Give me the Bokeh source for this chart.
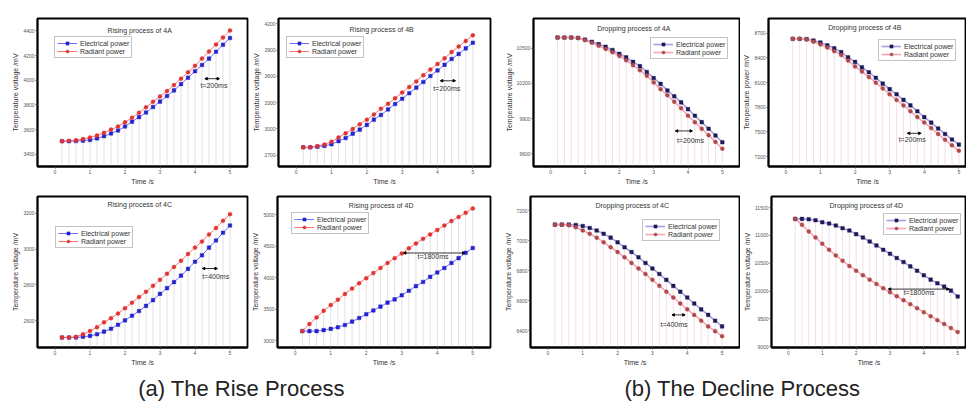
import numpy as np
from bokeh.plotting import figure
from bokeh.layouts import column, row
from bokeh.models import Range1d, FixedTicker, Legend, LegendItem, Label, Arrow, NormalHead
from bokeh.embed import file_html
from bokeh.resources import INLINE

# ---------------- data ----------------
time_s = [0.2, 0.4, 0.6, 0.8, 1.0, 1.2, 1.4, 1.6, 1.8, 2.0, 2.2, 2.4, 2.6,
          2.8, 3.0, 3.2, 3.4, 3.6, 3.8, 4.0, 4.2, 4.4, 4.6, 4.8, 5.0]
x_ticks = [0, 1, 2, 3, 4, 5]

rise_4a_elec = [3505, 3505, 3507, 3510, 3515, 3528, 3546, 3568, 3592, 3624, 3663, 3700, 3738,
                3782, 3826, 3872, 3917, 3968, 4020, 4072, 4123, 4175, 4230, 4287, 4342]
rise_4a_rad = [3505, 3508, 3512, 3522, 3535, 3552, 3573, 3599, 3625, 3658, 3695, 3736, 3780,
               3824, 3868, 3912, 3961, 4012, 4064, 4116, 4175, 4232, 4289, 4346, 4403]
rise_4a_yticks = [3400, 3600, 3800, 4000, 4200, 4400]

rise_4b_elec = [2789, 2789, 2796, 2806, 2824, 2860, 2895, 2945, 2991, 3045, 3105, 3158, 3222,
                3283, 3343, 3407, 3471, 3535, 3603, 3667, 3731, 3798, 3855, 3919, 3983]
rise_4b_rad = [2789, 2789, 2803, 2821, 2853, 2902, 2949, 2998, 3052, 3105, 3165, 3229, 3286,
               3350, 3414, 3478, 3542, 3613, 3677, 3741, 3805, 3877, 3940, 4004, 4068]
rise_4b_yticks = [2700, 3000, 3300, 3600, 3900, 4200]

rise_4c_elec = [2506, 2506, 2506, 2510, 2515, 2524, 2539, 2555, 2577, 2602, 2628, 2654, 2683,
                2715, 2750, 2782, 2816, 2852, 2890, 2930, 2966, 3009, 3049, 3092, 3133]
rise_4c_rad = [2506, 2506, 2510, 2524, 2542, 2564, 2591, 2614, 2640, 2670, 2701, 2732, 2762,
               2795, 2829, 2863, 2901, 2935, 2973, 3009, 3043, 3083, 3119, 3159, 3196]
rise_4c_yticks = [2600, 2800, 3000, 3200]

rise_4d_elec = [3151, 3151, 3151, 3166, 3186, 3212, 3247, 3302, 3358, 3418, 3479, 3539, 3604,
                3655, 3720, 3791, 3866, 3932, 4013, 4083, 4154, 4234, 4310, 4395, 4471]
rise_4d_rad = [3151, 3262, 3368, 3473, 3564, 3650, 3740, 3826, 3912, 3992, 4073, 4154, 4234,
               4310, 4385, 4466, 4542, 4617, 4688, 4758, 4829, 4899, 4965, 5030, 5101]
rise_4d_yticks = [3000, 3500, 4000, 4500, 5000]

drop_4a_elec = [10592, 10592, 10592, 10589, 10575, 10556, 10536, 10514, 10486, 10453, 10423, 10384, 10348,
                10298, 10246, 10196, 10140, 10090, 10038, 9980, 9924, 9869, 9813, 9755, 9697]
drop_4a_rad = [10592, 10592, 10592, 10589, 10570, 10547, 10522, 10495, 10467, 10434, 10398, 10356, 10312,
               10265, 10209, 10151, 10099, 10043, 9988, 9924, 9869, 9813, 9758, 9700, 9642]
drop_4a_yticks = [9600, 9900, 10200, 10500]

drop_4b_elec = [8633, 8633, 8629, 8613, 8589, 8554, 8518, 8471, 8408, 8352, 8285, 8226, 8159,
                8088, 8021, 7958, 7890, 7823, 7752, 7681, 7614, 7543, 7476, 7409, 7346]
drop_4b_rad = [8633, 8633, 8625, 8597, 8565, 8526, 8483, 8435, 8368, 8297, 8234, 8167, 8100,
               8029, 7958, 7890, 7823, 7752, 7681, 7614, 7547, 7476, 7405, 7338, 7271]
drop_4b_yticks = [7200, 7500, 7800, 8100, 8400, 8700]

drop_4c_elec = [7108, 7108, 7108, 7106, 7099, 7086, 7069, 7047, 7021, 6990, 6957, 6925, 6890,
                6852, 6815, 6778, 6739, 6699, 6660, 6621, 6581, 6542, 6505, 6466, 6428]
drop_4c_rad = [7108, 7108, 7104, 7090, 7069, 7047, 7021, 6990, 6957, 6925, 6890, 6852, 6815,
               6778, 6739, 6699, 6660, 6621, 6581, 6542, 6505, 6466, 6428, 6396, 6363]
drop_4c_yticks = [6400, 6600, 6800, 7000, 7200]

drop_4d_elec = [11297, 11297, 11291, 11273, 11237, 11214, 11178, 11130, 11088, 11023, 10963, 10891, 10820,
                10742, 10671, 10593, 10521, 10444, 10366, 10283, 10205, 10140, 10080, 10008, 9901]
drop_4d_rad = [11297, 11190, 11070, 10963, 10850, 10742, 10641, 10545, 10450, 10366, 10283, 10205, 10128,
               10050, 9978, 9907, 9835, 9764, 9692, 9620, 9549, 9477, 9406, 9334, 9262]
drop_4d_yticks = [9000, 9500, 10000, 10500, 11000, 11500]

# delay annotations: (x_start, x_end, y, text_x, text_y, text)
note_rise_4a = (4.28, 4.70, 4012, 4.54, 3953, "t=200ms")
note_rise_4b = (4.08, 4.51, 3549, 4.26, 3464, "t=200ms")
note_rise_4c = (4.21, 4.64, 2892, 4.59, 2849, "t=400ms")
note_rise_4d = (3.05, 4.78, 4392, 3.88, 4330, "t=1800ms")
note_drop_4a = (3.63, 4.13, 9794, 4.07, 9711, "t=200ms")
note_drop_4b = (3.51, 3.91, 7484, 3.65, 7405, "t=200ms")
note_drop_4c = (3.56, 3.94, 6505, 3.62, 6439, "t=400ms")
note_drop_4d = (2.95, 4.75, 10035, 3.86, 9967, "t=1800ms")

FONT = "Liberation Sans"
LEG_H = 21

RISE_STYLE = dict(blue="#2323cc", red="#e03434", bline="#6f6fff", rline="#ff7070",
                  lw=1.0, vline="#d4d4d4")
DROP_STYLE = dict(blue="#1c1a55", red="#b04a4a", bline="#a99ee0", rline="#f2a6b6",
                  lw=1.6, vline="#ecd2da")


def make_panel(title, ylabel, elec, rad, ylim, yticks, xlim, style, box, leg_off,
               title_dy, note):
    w, h, bl, br, bt, bb = box
    fw, fh = w - bl - br, h - bt - bb
    p = figure(width=w, height=h, min_border_left=bl, min_border_right=br,
               min_border_top=bt, min_border_bottom=bb,
               x_range=Range1d(*xlim), y_range=Range1d(*ylim),
               output_backend="svg", toolbar_location=None, tools="")
    p.xgrid.visible = False
    p.ygrid.visible = False
    p.outline_line_color = "black"
    p.outline_line_width = 1.8
    p.background_fill_color = "white"
    p.border_fill_color = "white"
    p.xaxis.ticker = FixedTicker(ticks=x_ticks)
    p.yaxis.ticker = FixedTicker(ticks=yticks)
    p.xaxis.axis_label = "Time /s"
    p.yaxis.axis_label = ylabel
    for ax in (p.xaxis[0], p.yaxis[0]):
        ax.major_label_text_font_size = "5px"
        ax.major_label_text_font = FONT
        ax.major_label_text_color = "#555555"
        ax.axis_label_text_font_size = "7px"
        ax.axis_label_text_font = FONT
        ax.axis_label_text_font_style = "normal"
        ax.axis_label_text_color = "#333333"
        ax.major_tick_in = 0
        ax.major_tick_out = 2
        ax.minor_tick_in = 0
        ax.minor_tick_out = 0
        ax.major_label_standoff = 1
        ax.axis_label_standoff = 1
        ax.axis_line_color = "black"
        ax.axis_line_width = 1.8
        ax.major_tick_line_color = "#444444"

    n = len(time_s)
    upper = np.maximum(np.array(elec), np.array(rad))
    p.segment(x0=time_s, y0=[ylim[0]] * n, x1=time_s, y1=upper,
              line_color=style["vline"], line_width=0.7)
    lb = p.line(time_s, elec, line_color=style["bline"], line_width=style["lw"])
    lr = p.line(time_s, rad, line_color=style["rline"], line_width=style["lw"])
    sb = p.scatter(time_s, elec, marker="square", size=3.6, fill_color=style["blue"],
                   line_color=style["blue"], line_width=0.4)
    sr = p.scatter(time_s, rad, marker="circle", size=4.0, fill_color=style["red"],
                   line_color=style["red"], line_width=0.4)

    leg = Legend(items=[LegendItem(label="Electrical power", renderers=[lb, sb]),
                        LegendItem(label="Radiant power", renderers=[lr, sr])],
                 location=(leg_off[0], fh - leg_off[1] - LEG_H))
    leg.label_text_font_size = "7px"
    leg.label_text_font = FONT
    leg.label_text_color = "#333333"
    leg.label_height = 8
    leg.glyph_height = 8
    leg.glyph_width = 20
    leg.label_standoff = 3
    leg.padding = 2
    leg.spacing = 0
    leg.margin = 0
    leg.border_line_color = "#888888"
    leg.border_line_width = 0.7
    leg.background_fill_alpha = 1.0
    p.add_layout(leg)

    per_px = (ylim[1] - ylim[0]) / fh
    p.add_layout(Label(x=(xlim[0] + xlim[1]) / 2 - 0.08, y=ylim[1] - title_dy * per_px,
                       text=title, text_align="center", text_baseline="middle",
                       text_font_size="7px", text_font=FONT, text_color="#333333"))

    x0, x1, ya, tx, ty, txt = note
    p.add_layout(Arrow(x_start=x0, y_start=ya, x_end=x1, y_end=ya, line_width=0.8,
                       line_color="black",
                       start=NormalHead(size=2.5, fill_color="black", line_color="black"),
                       end=NormalHead(size=2.5, fill_color="black", line_color="black")))
    p.add_layout(Label(x=tx, y=ty, text=txt, text_align="center", text_baseline="middle",
                       text_font_size="7px", text_font=FONT, text_color="#333333"))
    return p


VOLT = "Temperature voltage /mV"

p1 = make_panel("Rising process of 4A", VOLT, rise_4a_elec, rise_4a_rad, (3300, 4500),
                rise_4a_yticks, (-0.5, 5.5), RISE_STYLE, (249, 188, 37, 2, 13, 22),
                (17, 24), 12, note_rise_4a)
p2 = make_panel("Rising process of 4B", VOLT, rise_4b_elec, rise_4b_rad, (2570, 4260),
                rise_4b_yticks, (-0.5, 5.5), RISE_STYLE, (243, 188, 29, 2, 9, 20),
                (8, 30), 11.5, note_rise_4b)
p3 = make_panel("Dropping process of 4A", VOLT, drop_4a_elec, drop_4a_rad, (9490, 10755),
                drop_4a_yticks, (-0.5, 5.5), DROP_STYLE, (248, 188, 41, 1, 16, 20),
                (117, 24), 10.5, note_drop_4a)
p4 = make_panel("Dropping process of 4B", "Temperature power /mV", drop_4b_elec, drop_4b_rad,
                (7080, 8880), drop_4b_yticks, (-0.5, 5.22), DROP_STYLE, (226, 188, 27, 0, 18, 18),
                (110, 26), 9, note_drop_4b)

p5 = make_panel("Rising process of 4C", VOLT, rise_4c_elec, rise_4c_rad, (2450, 3295),
                rise_4c_yticks, (-0.5, 5.5), RISE_STYLE, (249, 180, 37, 2, 3, 21),
                (18, 36), 8.5, note_rise_4c)
p6 = make_panel("Rising process of 4D", VOLT, rise_4d_elec, rise_4d_rad, (2890, 5290),
                rise_4d_yticks, (-0.5, 5.5), RISE_STYLE, (243, 180, 27, 2, 2, 19),
                (14, 25), 9, note_rise_4d)
p7 = make_panel("Dropping process of 4C", VOLT, drop_4c_elec, drop_4c_rad, (6287, 7296),
                drop_4c_yticks, (-0.5, 5.5), DROP_STYLE, (248, 180, 38, 1, 8, 18),
                (112, 27), 9, note_drop_4c)
p8 = make_panel("Dropping process of 4D", VOLT, drop_4d_elec, drop_4d_rad, (8985, 11700),
                drop_4d_yticks, (-0.5, 5.26), DROP_STYLE, (226, 180, 30, 0, 8, 18),
                (112, 21), 9, note_drop_4d)

cap = figure(width=966, height=47, x_range=Range1d(0, 966), y_range=Range1d(0, 47),
             output_backend="svg", toolbar_location=None, tools="",
             x_axis_location=None, y_axis_location=None, min_border=0)
cap.xgrid.visible = False
cap.ygrid.visible = False
cap.outline_line_color = None
cap.add_layout(Label(x=241, y=27, text="(a) The Rise Process", text_align="center",
                     text_baseline="middle", text_font_size="22px", text_font=FONT,
                     text_color="#222222"))
cap.add_layout(Label(x=742, y=27, text="(b) The Decline Process", text_align="center",
                     text_baseline="middle", text_font_size="22px", text_font=FONT,
                     text_color="#222222"))

layout = column(row(p1, p2, p3, p4), row(p5, p6, p7, p8), cap)
open("out.html", "w").write(file_html(layout, INLINE))
